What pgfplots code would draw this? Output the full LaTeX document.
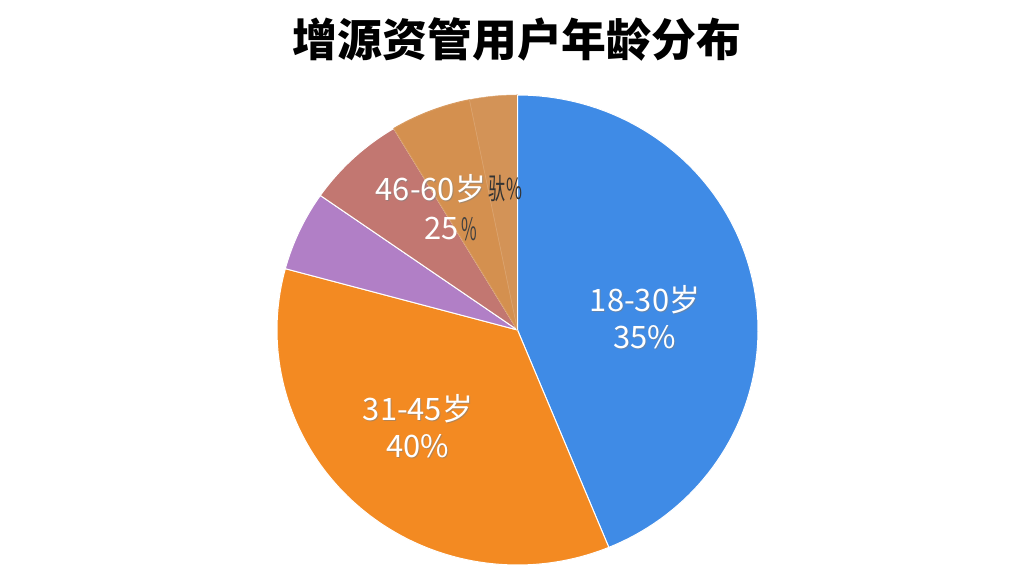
\documentclass[border=0pt]{standalone}
\usepackage{fontspec}
\setmainfont{Noto Sans CJK SC}
\usepackage{pgfplots}
\pgfplotsset{compat=1.18}

% slice shares (percent of the circle, read from the drawn angles), clockwise from 12 o'clock
\def\pBlue{43.8}
\def\pOrange{35.4}
\def\pPurple{5.5}
\def\pRose{6.7}
\def\pTanA{5.4}
\def\pTanB{3.2}

\definecolor{cBlue}{HTML}{3F8BE6}
\definecolor{cOrange}{HTML}{F38A22}
\definecolor{cPurple}{HTML}{B17FC6}
\definecolor{cRose}{HTML}{C27771}
\definecolor{cTanA}{HTML}{D4904F}
\definecolor{cTanB}{HTML}{D39357}

\pgfmathsetmacro\aA{90}
\pgfmathsetmacro\aB{\aA-3.6*\pBlue}
\pgfmathsetmacro\aC{\aB-3.6*\pOrange}
\pgfmathsetmacro\aD{\aC-3.6*\pPurple}
\pgfmathsetmacro\aE{\aD-3.6*\pRose}
\pgfmathsetmacro\aF{\aE-3.6*\pTanA}
\pgfmathsetmacro\aG{\aF-3.6*\pTanB}

\begin{document}
\begin{tikzpicture}[x=1bp,y=1bp]
\path[use as bounding box, fill=white] (0,0) rectangle (1024,576);
\node[font=\fontsize{45}{50}\selectfont\bfseries] at (517,536) {增源资管用户年龄分布};
\begin{axis}[
    at={(517.5bp,246bp)}, anchor=center,
    width=481bp, height=470bp, scale only axis,
    xmin=-1, xmax=1, ymin=-1, ymax=1,
    hide axis, clip=false,
    samples=90,
    every axis plot/.append style={draw=white, line width=1bp, line join=round},
  ]
  \addplot[fill=cBlue, domain=\aB:\aA] ({cos(x)},{sin(x)}) -- (axis cs:0,0) -- cycle;
  \addplot[fill=cOrange, domain=\aC:\aB] ({cos(x)},{sin(x)}) -- (axis cs:0,0) -- cycle;
  \addplot[fill=cPurple, domain=\aD:\aC, samples=20] ({cos(x)},{sin(x)}) -- (axis cs:0,0) -- cycle;
  \addplot[fill=cRose, domain=\aE:\aD, samples=20] ({cos(x)},{sin(x)}) -- (axis cs:0,0) -- cycle;
  \addplot[fill=cTanA, draw=cTanA!90!white, domain=\aF:\aE, samples=20] ({cos(x)},{sin(x)}) -- (axis cs:0,0) -- cycle;
  \addplot[fill=cTanB, draw=cTanA!80!white, line width=0.5bp, domain=\aG:\aF, samples=20] ({cos(x)},{sin(x)}) -- (axis cs:0,0) -- cycle;
  \draw[white, line width=1.2bp] (axis cs:0,0) -- (axis cs:0,1);

  \tikzset{lbl/.style={font=\fontsize{31}{37}\selectfont, align=center, text=white},
           shd/.style={lbl, text=black!50, opacity=0.55}}
  \node[shd] at ([shift={(1bp,-1bp)}]axis cs:0.53,0.055) {18-30岁\\35\%};
  \node[lbl] at (axis cs:0.53,0.055) {18-30岁\\35\%};
  \node[shd] at ([shift={(1bp,-1bp)}]axis cs:-0.414,-0.41) {31-45岁\\40\%};
  \node[lbl] at (axis cs:-0.414,-0.41) {31-45岁\\40\%};
  \node[shd] at ([shift={(1bp,-1bp)}]axis cs:-0.36,0.602) {46-60岁};
  \node[lbl] at (axis cs:-0.36,0.602) {46-60岁};
  \node[lbl, anchor=east, inner sep=0pt] at (axis cs:-0.245,0.43) {25};
  \node[lbl, anchor=west, text=black!75, inner sep=0pt, xscale=0.55] at (axis cs:-0.235,0.43) {\%};
  \node[lbl, anchor=west, text=black!80, inner sep=0pt, xscale=0.6, font=\fontsize{29}{34}\selectfont] at (axis cs:-0.12,0.602) {驮\%};
\end{axis}
\end{tikzpicture}
\end{document}
